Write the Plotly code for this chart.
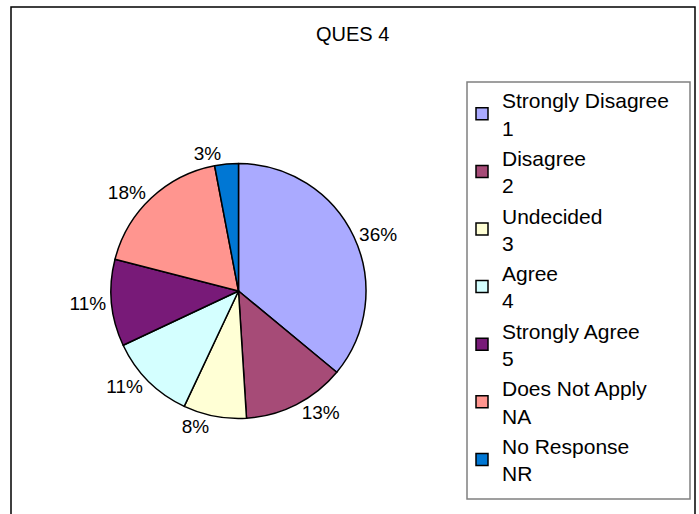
import plotly.graph_objects as go

labels = ["Strongly Disagree<br>1", "Disagree<br>2", "Undecided<br>3", "Agree<br>4",
          "Strongly Agree<br>5", "Does Not Apply<br>NA", "No Response<br>NR"]
values = [36, 13, 8, 11, 11, 18, 3]
colors = ["#AAAAFF", "#A64B77", "#FFFFD5", "#D4FFFF", "#781A78", "#FF958F", "#0077D4"]

W, H = 699, 514
cx, cy, r = 238.5, 291, 127.5

fig = go.Figure(go.Pie(
    labels=labels, values=values, sort=False, direction="clockwise", rotation=0,
    marker=dict(colors=colors, line=dict(color="black", width=1.5)),
    texttemplate="%{percent:.0%}", textposition="outside",
    textfont=dict(family="Liberation Sans, Arial", size=19, color="black"),
    domain=dict(x=[(cx - r) / W, (cx + r) / W], y=[1 - (cy + r) / H, 1 - (cy - r) / H]),
    hoverinfo="label+percent",
))

fig.update_layout(
    width=W, height=H, margin=dict(l=0, r=0, t=0, b=0),
    paper_bgcolor="white", plot_bgcolor="white",
    font=dict(family="Liberation Sans, Arial", size=21, color="black"),
    showlegend=True,
    legend=dict(x=462 / W, y=1 - 80 / H, xanchor="left", yanchor="top",
                borderwidth=0, bgcolor="rgba(0,0,0,0)", itemwidth=30,
                font=dict(size=21), traceorder="normal"),
    annotations=[dict(text="QUES 4", x=353 / W, y=1 - 34 / H, xref="paper", yref="paper",
                      showarrow=False, font=dict(size=20), xanchor="center", yanchor="middle")],
    shapes=[
        dict(type="rect", xref="paper", yref="paper",
             x0=11 / W, x1=695 / W, y0=-0.02, y1=1 - 7 / H,
             line=dict(color="black", width=1.5), fillcolor="rgba(0,0,0,0)"),
        dict(type="rect", xref="paper", yref="paper",
             x0=467 / W, x1=690 / W, y0=1 - 499 / H, y1=1 - 82 / H,
             line=dict(color="#808080", width=1.5), fillcolor="rgba(0,0,0,0)"),
    ],
)

fig.write_html("out.html")
